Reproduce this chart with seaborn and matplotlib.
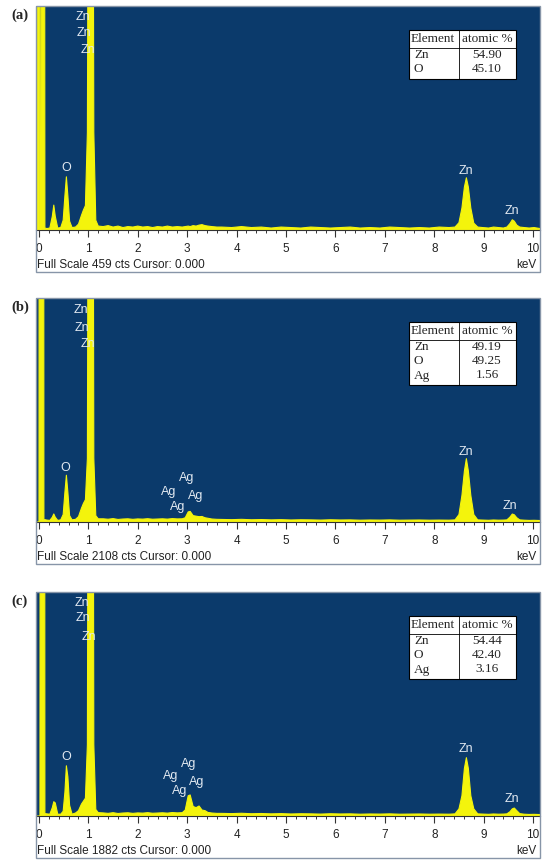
import matplotlib
matplotlib.use('Agg')
import matplotlib.pyplot as plt
from matplotlib.patches import Rectangle
from matplotlib.lines import Line2D
from matplotlib.ticker import MultipleLocator
import seaborn as sns

# energy grid (keV), shared by the three spectra
energy = [
    # low-energy noise spike
    -0.06, -0.04, -0.02, 0.00, 0.02, 0.04, 0.06, 0.08, 0.10, 0.12, 0.16,
    # C K
    0.22, 0.27, 0.30, 0.33, 0.38,
    # O K
    0.44, 0.49, 0.525, 0.555, 0.585, 0.62, 0.67,
    # Zn L
    0.74, 0.80, 0.86, 0.90, 0.94, 0.98, 1.02, 1.05, 1.08, 1.11, 1.15, 1.20,
    # background
    1.3, 1.4, 1.5, 1.6, 1.7, 1.8, 1.9, 2.0, 2.1, 2.2, 2.3, 2.4, 2.5, 2.6, 2.7, 2.8, 2.9,
    # Ag L
    2.96, 3.02, 3.06, 3.12, 3.18, 3.24, 3.30, 3.36, 3.42, 3.50, 3.60,
    # background
    3.7, 3.9, 4.1, 4.3, 4.5, 4.7, 4.9, 5.1, 5.3, 5.5, 5.7, 5.9,
    6.1, 6.3, 6.5, 6.7, 6.9, 7.1, 7.3, 7.5, 7.7, 7.9, 8.1, 8.3,
    # Zn Ka
    8.42, 8.50, 8.56, 8.61, 8.65, 8.69, 8.74, 8.80, 8.88,
    8.98, 9.1, 9.2, 9.3, 9.4,
    # Zn Kb
    9.47, 9.53, 9.58, 9.62, 9.67, 9.73,
    9.82, 9.92, 10.02, 10.14,
]

counts_a = [
    0, 0, 3000, 3000, 0, 0, 3000, 3000, 3000, 4, 3,
    4, 28, 51, 28, 4,
    5, 20, 70, 109, 70, 18, 5,
    6, 12, 30, 41, 50, 200, 1500, 2500, 1500, 200, 20, 8,
    7, 9, 6, 8, 5, 7, 6, 8, 6, 7, 5, 7, 6, 8, 6, 7, 6,
    7, 8, 7, 9, 8, 10, 11, 9, 8, 7, 6,
    6, 5, 7, 5, 6, 4, 6, 5, 4, 6, 5, 4,
    5, 6, 4, 5, 4, 6, 5, 4, 5, 4, 6, 5,
    6, 15, 45, 88, 107, 88, 45, 14, 6,
    5, 4, 6, 5, 4,
    6, 13, 21, 18, 10, 6,
    5, 4, 5, 3,
]

counts_b = [
    0, 0, 0, 0, 20000, 20000, 20000, 20000, 20, 22, 18,
    15, 45, 76, 45, 15,
    20, 70, 280, 440, 280, 60, 20,
    25, 50, 130, 175, 210, 600, 8000, 12000, 8000, 600, 60, 30,
    30, 26, 32, 24, 28, 30, 25, 29, 27, 31, 26, 28, 30, 27, 32, 29, 30,
    40, 95, 100, 60, 55, 50, 52, 40, 35, 28, 25,
    24, 22, 25, 21, 23, 20, 22, 19, 21, 20, 18, 21,
    19, 20, 17, 19, 18, 20, 17, 18, 19, 17, 18, 17,
    20, 70, 250, 480, 596, 480, 250, 70, 20,
    18, 16, 19, 17, 18,
    20, 45, 75, 68, 40, 20,
    17, 15, 16, 14,
]

counts_c = [
    0, 0, 0, 0, 0, 20000, 20000, 20000, 20000, 20, 18,
    15, 70, 120, 110, 15,
    15, 40, 200, 422, 330, 90, 15,
    25, 45, 100, 125, 150, 600, 8000, 12000, 8000, 600, 55, 28,
    26, 22, 28, 21, 25, 27, 22, 26, 24, 28, 23, 25, 27, 24, 29, 26, 28,
    50, 170, 177, 80, 70, 84, 50, 45, 30, 25, 22,
    22, 20, 23, 19, 21, 18, 20, 17, 19, 18, 16, 19,
    17, 18, 15, 17, 16, 18, 15, 16, 17, 15, 16, 15,
    18, 60, 170, 400, 490, 400, 170, 60, 18,
    16, 14, 17, 15, 16,
    18, 35, 60, 67, 45, 20,
    15, 13, 14, 12,
]

full_scale = [459, 2108, 1882]
panel_tags = ['(a)', '(b)', '(c)']

# peak labels: (text, keV, cts)
labels_a = [('Zn', 0.90, 436), ('Zn', 0.92, 404), ('Zn', 0.99, 369), ('O', 0.555, 127),
            ('Zn', 8.64, 121), ('Zn', 9.57, 39)]
labels_b = [('Zn', 0.84, 1995), ('Zn', 0.86, 1829), ('Zn', 0.99, 1675), ('O', 0.53, 511),
            ('Ag', 2.98, 411), ('Ag', 2.63, 282), ('Ag', 3.17, 247), ('Ag', 2.81, 141),
            ('Zn', 8.64, 662), ('Zn', 9.54, 151)]
labels_c = [('Zn', 0.86, 1789), ('Zn', 0.88, 1663), ('Zn', 1.01, 1506), ('O', 0.555, 498),
            ('Ag', 3.02, 433), ('Ag', 2.67, 332), ('Ag', 3.19, 288), ('Ag', 2.85, 208),
            ('Zn', 8.65, 560), ('Zn', 9.58, 140)]

# composition tables
table_a = [('Zn', '54.90'), ('O', '45.10')]
table_b = [('Zn', '49.19'), ('O', '49.25'), ('Ag', '1.56')]
table_c = [('Zn', '54.44'), ('O', '42.40'), ('Ag', '3.16')]

sns.set_style('white')
plt.rcParams['font.family'] = ['Liberation Sans', 'DejaVu Sans']

NAVY = '#0b3a6b'
YELLOW = '#f4f40c'
LABEL = '#e2e9f1'
FRAME = '#8795a8'
SERIF = ['Liberation Serif', 'DejaVu Serif']

W, H = 550, 865
X0, X1 = 36, 540
PH = 224          # plot height px
STRIP = 42        # white strip under plot
tops = [6, 298, 592]

fig = plt.figure(figsize=(W / 100, H / 100), dpi=100)


def ax_frac(ax_top, px, py):
    return (px - X0) / (X1 - X0), 1 - (py - ax_top) / PH


def draw_table(ax, ax_top, rows):
    left, right, mid = 409, 516, 459
    top = ax_top + 24
    head = ax_top + 42
    bottom = head + 14 * len(rows) + 3
    tr = ax.transAxes
    x0, y0 = ax_frac(ax_top, left, bottom)
    x1, y1 = ax_frac(ax_top, right, top)
    ax.add_patch(Rectangle((x0, y0), x1 - x0, y1 - y0, transform=tr, facecolor='white',
                           edgecolor='black', lw=0.8, zorder=5))
    xm, _ = ax_frac(ax_top, mid, top)
    _, yh = ax_frac(ax_top, left, head)
    ax.add_line(Line2D([xm, xm], [y0, y1], transform=tr, color='black', lw=0.6, zorder=6))
    ax.add_line(Line2D([x0, x1], [yh, yh], transform=tr, color='black', lw=0.6, zorder=6))
    xl, yt = ax_frac(ax_top, 411, ax_top + 33)
    xv, _ = ax_frac(ax_top, 487, ax_top + 33)
    ax.text(xl, yt, 'Element', transform=tr, ha='left', va='center', fontsize=9.5,
            family=SERIF, zorder=7)
    ax.text(xv, yt, 'atomic %', transform=tr, ha='center', va='center', fontsize=9.5,
            family=SERIF, zorder=7)
    for i, (el, val) in enumerate(rows):
        xe, yr = ax_frac(ax_top, 414, head + 14 * i + 7.5)
        ax.text(xe, yr, el, transform=tr, ha='left', va='center', fontsize=9.5,
                family=SERIF, zorder=7)
        ax.text(xv, yr, val, transform=tr, ha='center', va='center', fontsize=9.5,
                family=SERIF, zorder=7)


spectra = [counts_a, counts_b, counts_c]
all_labels = [labels_a, labels_b, labels_c]
tables = [table_a, table_b, table_c]

for top, counts, fs, labs, tab, tag in zip(tops, spectra, full_scale, all_labels, tables, panel_tags):
    ax = fig.add_axes([X0 / W, 1 - (top + PH) / H, (X1 - X0) / W, PH / H])
    ax.set_facecolor(NAVY)
    ax.fill_between(energy, counts, 0, color=YELLOW, lw=0, zorder=2)
    sns.lineplot(x=energy, y=counts, ax=ax, color=YELLOW, lw=0.8, zorder=3,
                 estimator=None, sort=False)
    ax.set_xlim(-0.06, 10.14)
    ax.set_ylim(0, fs)
    ax.set_yticks([])
    ax.set_xlabel('')
    ax.set_ylabel('')
    ax.xaxis.set_major_locator(MultipleLocator(1))
    ax.xaxis.set_minor_locator(MultipleLocator(0.2))
    ax.set_xticks(range(11))
    ax.set_xticklabels([str(i) for i in range(11)])
    ax.tick_params(axis='x', which='major', direction='out', length=5, width=0.8,
                   color='#333333', labelsize=8.5, labelcolor='#222222', pad=4.5, bottom=True)
    ax.tick_params(axis='x', which='minor', direction='out', length=2.5, width=0.7,
                   color='#333333', bottom=True)
    for s in ['top', 'left', 'right']:
        ax.spines[s].set_visible(False)
    ax.spines['bottom'].set_color('#333333')
    ax.spines['bottom'].set_linewidth(0.8)

    # peak labels sit over the spectrum, light text nearly vanishes on yellow
    for txt, x, y in labs:
        ax.text(x, y, txt, color=LABEL, fontsize=9, ha='center', va='center', zorder=4)

    ax.text(0.002, -35 / PH, f'Full Scale {fs} cts Cursor: 0.000', transform=ax.transAxes,
            ha='left', va='center', fontsize=8.5, color='#222222')
    ax.text(0.994, -35 / PH, 'keV', transform=ax.transAxes,
            ha='right', va='center', fontsize=8.5, color='#222222')

    draw_table(ax, top, tab)

    fig.add_artist(Rectangle((X0 / W, 1 - (top + PH + STRIP) / H), (X1 - X0) / W,
                             (PH + STRIP) / H, transform=fig.transFigure, fill=False,
                             edgecolor=FRAME, lw=1.0))
    fig.text(20 / W, 1 - (top + 9) / H, tag, ha='center', va='center', fontsize=10.5,
             fontweight='bold', family=SERIF)

fig.savefig('out.png', dpi=100)
